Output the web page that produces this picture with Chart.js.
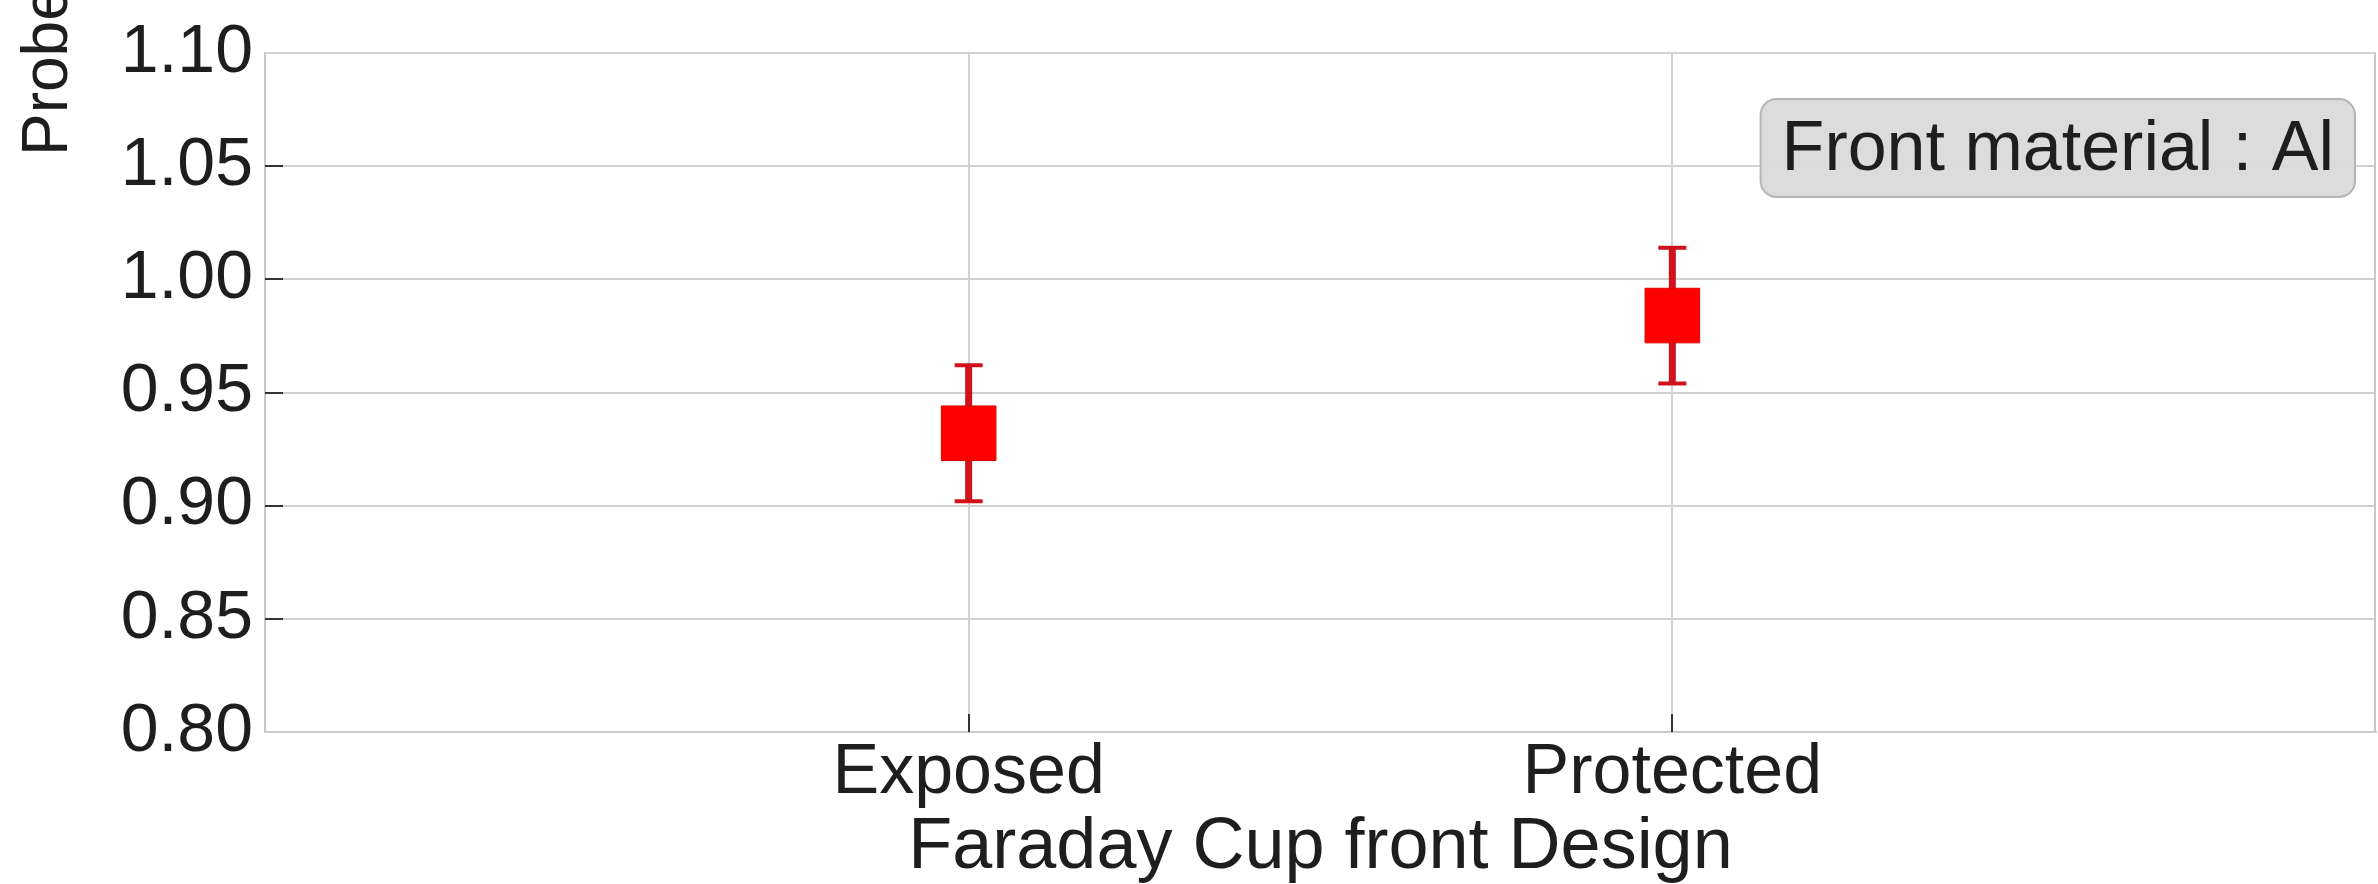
<!DOCTYPE html>
<html>
<head>
<meta charset="utf-8">
<script src="https://cdn.jsdelivr.net/npm/chart.js@4/dist/chart.umd.min.js"></script>
<style>
  html, body { margin: 0; padding: 0; background: #fff; overflow: hidden; }
  #grafico { display: block; }
</style>
</head>
<body>
<canvas id="grafico" width="2378" height="884"></canvas>
<script>
// dati
const categories = ['Exposed', 'Protected'];
const values = [0.932, 0.984];
const errors = [0.030, 0.030];
const yTicks = [0.80, 0.85, 0.90, 0.95, 1.00, 1.05, 1.10];
const yTitle = 'Probe';
const xTitle = 'Faraday Cup front Design';
const noteText = 'Front material : Al';

const FONT = '"Liberation Sans", Arial, Helvetica, sans-serif';
const TEXT = '#1e1e1e';
const GRID = '#d2d2d2';
const FRAME = '#c8c8c8';

// barre di errore, disegnate sotto i quadrati
const errorBars = {
  id: 'errorBars',
  beforeDatasetsDraw(chart) {
    const ctx = chart.ctx;
    const xs = chart.scales.x, ys = chart.scales.y;
    ctx.save();
    ctx.strokeStyle = '#d0121c';
    values.forEach((v, i) => {
      const px = xs.getPixelForValue(i + 1);
      const top = ys.getPixelForValue(v + errors[i]);
      const bot = ys.getPixelForValue(v - errors[i]);
      ctx.lineWidth = 7;
      ctx.beginPath();
      ctx.moveTo(px, top);
      ctx.lineTo(px, bot);
      ctx.stroke();
      ctx.lineWidth = 4;
      ctx.beginPath();
      ctx.moveTo(px - 14, top); ctx.lineTo(px + 14, top);
      ctx.moveTo(px - 14, bot); ctx.lineTo(px + 14, bot);
      ctx.stroke();
    });
    ctx.restore();
  }
};

// bordo destro, tacche interne, titolo y tagliato e riquadro di testo
const extras = {
  id: 'extras',
  afterDraw(chart) {
    const ctx = chart.ctx;
    const a = chart.chartArea;
    const xs = chart.scales.x, ys = chart.scales.y;
    ctx.save();

    // bordo destro
    ctx.strokeStyle = FRAME;
    ctx.lineWidth = 2;
    ctx.beginPath();
    ctx.moveTo(a.right - 1, a.top);
    ctx.lineTo(a.right - 1, a.bottom);
    ctx.stroke();

    // tacche scure all'interno
    ctx.strokeStyle = '#333';
    ctx.beginPath();
    yTicks.slice(1, -1).forEach(t => {
      const py = Math.round(ys.getPixelForValue(t));
      ctx.moveTo(a.left, py); ctx.lineTo(a.left + 18, py);
    });
    categories.forEach((c, i) => {
      const px = Math.round(xs.getPixelForValue(i + 1));
      ctx.moveTo(px, a.bottom); ctx.lineTo(px, a.bottom - 18);
    });
    ctx.stroke();

    // titolo asse y (tagliato in alto come nell'originale)
    ctx.fillStyle = TEXT;
    ctx.font = '64px ' + FONT;
    ctx.textAlign = 'left';
    ctx.textBaseline = 'alphabetic';
    ctx.save();
    ctx.translate(67, a.top + 103);
    ctx.rotate(-Math.PI / 2);
    ctx.fillText(yTitle, 0, 0);
    ctx.restore();

    // riquadro "Front material"
    ctx.font = '70px ' + FONT;
    const w = ctx.measureText(noteText).width + 42;
    const h = 98;
    const bx = a.right - 21 - w;
    const by = a.top + 46;
    ctx.beginPath();
    ctx.roundRect(bx, by, w, h, 16);
    ctx.fillStyle = 'rgba(218,218,218,0.95)';
    ctx.fill();
    ctx.strokeStyle = '#b4b4b4';
    ctx.lineWidth = 2;
    ctx.stroke();
    ctx.fillStyle = TEXT;
    ctx.fillText(noteText, bx + 21, by + 71);
    ctx.restore();
  }
};

const ctx = document.getElementById('grafico').getContext('2d');
const grafico = new Chart(ctx, {
  type: 'scatter',
  data: {
    datasets: [{
      data: values.map((v, i) => ({ x: i + 1, y: v })),
      pointStyle: 'rect',
      pointRadius: 38.6,
      pointHoverRadius: 38.6,
      backgroundColor: '#ff0000',
      borderColor: '#e00000',
      borderWidth: 1
    }]
  },
  options: {
    responsive: false,
    animation: false,
    events: [],
    layout: { autoPadding: false, padding: { left: 0, right: 2, top: 53, bottom: 0 } },
    plugins: {
      legend: { display: false },
      tooltip: { enabled: false }
    },
    scales: {
      x: {
        type: 'linear',
        min: 0,
        max: 3,
        afterBuildTicks: s => { s.ticks = categories.map((c, i) => ({ value: i + 1 })); },
        afterFit: s => { s.height = 152; s.paddingRight = 0; s.paddingLeft = 0; },
        ticks: {
          callback: v => categories[v - 1],
          color: TEXT,
          font: { family: FONT, size: 70 },
          padding: 0,
          maxRotation: 0
        },
        grid: { color: GRID, lineWidth: 2, drawTicks: false },
        border: { color: FRAME, width: 2 },
        title: {
          display: true,
          text: xTitle,
          color: TEXT,
          font: { family: FONT, size: 72 },
          padding: { top: 0, bottom: -7 }
        }
      },
      y: {
        min: 0.80,
        max: 1.10,
        afterBuildTicks: s => { s.ticks = yTicks.map(v => ({ value: v })); },
        afterFit: s => { s.width = 265; s.paddingTop = 0; s.paddingBottom = 0; },
        ticks: {
          callback: v => v.toFixed(2),
          color: TEXT,
          font: { family: FONT, size: 68 },
          padding: 12
        },
        grid: { color: GRID, lineWidth: 2, drawTicks: false },
        border: { color: FRAME, width: 2 }
      }
    }
  },
  plugins: [errorBars, extras]
});
</script>
</body>
</html>
